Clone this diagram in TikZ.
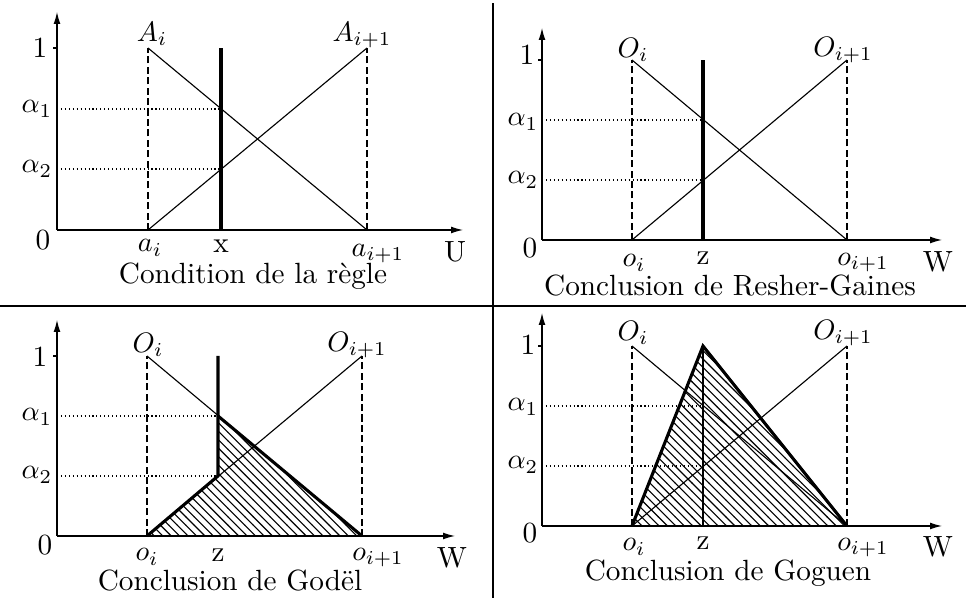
\documentclass[tikz,border=0pt]{standalone}
\usepackage{amsmath}
\usepackage{tikz}
\usetikzlibrary{patterns,arrows.meta}

\tikzset{
  gras/.style={line width=1.1pt},
  tiret/.style={dash pattern=on 2.5pt off 1.2pt},
  pointille/.style={dash pattern=on 0.4pt off 1pt},
  hachure/.style={pattern=north west lines},
  separe/.style={line width=0.7pt}
}

\begin{document}
\begin{tikzpicture}[>={Latex[length=4.2pt,width=2.4pt]}, x=0.0125cm, y=0.0125cm,
  every node/.style={font=\fontsize{10.4pt}{12pt}\selectfont}]
\useasboundingbox (0,0) rectangle (966,601);
% separations
\coordinate (hg) at (0,295);
\coordinate (hd) at (966,295);
\coordinate (vh) at (493,598);
\coordinate (vb) at (493,3);
\draw[separe] (vb) -- (vh);
\draw[separe] (hg) -- (hd);

% condition de la regle
\begin{scope}[shift={(57,371)}]
  \coordinate (c0) at (0,0);
  \coordinate (cU) at (406,0);
  \coordinate (cY) at (0,218);
  \coordinate (ct) at (-4,182);
  \coordinate (c1) at (0,182);
  \coordinate (cai) at (91,0);
  \coordinate (caj) at (310,0);
  \coordinate (cAi) at (91,182);
  \coordinate (cAj) at (310,182);
  \coordinate (cx) at (164,0);
  \coordinate (cxh) at (164,182);
  \coordinate (cl1) at (0,121);
  \coordinate (cl2) at (0,61);
  \coordinate (cx1) at (164,121);
  \coordinate (cx2) at (164,61);
  \draw[->] (c0) -- (cU);
  \draw[->] (c0) -- (cY);
  \draw (ct) -- (c1);
  \draw[tiret] (cai) -- (cAi);
  \draw[tiret] (caj) -- (cAj);
  \draw (cAi) -- (caj);
  \draw (cai) -- (cAj);
  \draw[pointille] (cl1) -- (cx1);
  \draw[pointille] (cl2) -- (cx2);
  \draw[gras] (cx) -- (cxh);
  \node (cun) at (-17,182) {1};
  \node (czero) at (-14,-10) {0};
  \node (calpha1) at (-20,121) {$\alpha_1$};
  \node (calpha2) at (-20,61) {$\alpha_2$};
  \node (cnAi) at (95,196) {$A_i$};
  \node (cnAj) at (305,195) {$A_{i+1}$};
  \node (cnai) at (93,-18) {$a_i$};
  \node (cnx) at (164,-16) {x};
  \node (cnaj) at (321,-24) {$a_{i+1}$};
  \node (cnU) at (398,-22) {U};
  \node (ctitre) at (196,-46) {Condition de la règle};
\end{scope}

% conclusion de Resher-Gaines
\begin{scope}[shift={(542,361)}]
  \coordinate (r0) at (0,0);
  \coordinate (rW) at (400,0);
  \coordinate (rY) at (0,212);
  \coordinate (rt) at (-4,180);
  \coordinate (r1) at (0,180);
  \coordinate (roi) at (90,0);
  \coordinate (roj) at (305,0);
  \coordinate (rOi) at (90,180);
  \coordinate (rOj) at (305,180);
  \coordinate (rz) at (161,0);
  \coordinate (rzh) at (161,180);
  \coordinate (rl1) at (0,120);
  \coordinate (rl2) at (0,60);
  \coordinate (rz1) at (161,120);
  \coordinate (rz2) at (161,60);
  \draw[->] (r0) -- (rW);
  \draw[->] (r0) -- (rY);
  \draw (rt) -- (r1);
  \draw[tiret] (roi) -- (rOi);
  \draw[tiret] (roj) -- (rOj);
  \draw (rOi) -- (roj);
  \draw (roi) -- (rOj);
  \draw[pointille] (rl1) -- (rz1);
  \draw[pointille] (rl2) -- (rz2);
  \draw[gras] (rz) -- (rzh);
  \node (run) at (-15,185) {1};
  \node (rzero) at (-12,-8) {0};
  \node (ralpha1) at (-19,118) {$\alpha_1$};
  \node (ralpha2) at (-19,60) {$\alpha_2$};
  \node (rnOi) at (91,190) {$O_i$};
  \node (rnOj) at (301,190) {$O_{i+1}$};
  \node (rnoi) at (92,-23) {$o_i$};
  \node (rnz) at (161,-18) {z};
  \node (rnoj) at (321,-23) {$o_{i+1}$};
  \node (rnW) at (396,-22) {W};
  \node (rtitre) at (188,-46) {Conclusion de Resher-Gaines};
\end{scope}

% conclusion de Godel
\begin{scope}[shift={(57,65)}]
  \coordinate (g0) at (0,0);
  \coordinate (gW) at (398,0);
  \coordinate (gY) at (0,216);
  \coordinate (gt) at (-4,180);
  \coordinate (g1) at (0,180);
  \coordinate (goi) at (90,0);
  \coordinate (goj) at (305,0);
  \coordinate (gOi) at (90,180);
  \coordinate (gOj) at (305,180);
  \coordinate (gzh) at (161,180);
  \coordinate (gl1) at (0,120);
  \coordinate (gl2) at (0,60);
  \coordinate (gz1) at (161,120);
  \coordinate (gz2) at (161,60);
  \fill[hachure] (goi) -- (gz2) -- (gz1) -- (goj) -- cycle;
  \draw[->] (g0) -- (gW);
  \draw[->] (g0) -- (gY);
  \draw (gt) -- (g1);
  \draw[tiret] (goi) -- (gOi);
  \draw[tiret] (goj) -- (gOj);
  \draw (gOi) -- (goj);
  \draw (goi) -- (gOj);
  \draw[pointille] (gl1) -- (gz1);
  \draw[pointille] (gl2) -- (gz2);
  \draw[gras] (goi) -- (gz2) -- (gzh);
  \draw[gras] (gz1) -- (goj);
  \node (gun) at (-17,179) {1};
  \node (gzero) at (-12,-9) {0};
  \node (galpha1) at (-20,119) {$\alpha_1$};
  \node (galpha2) at (-20,61) {$\alpha_2$};
  \node (gnOi) at (91,191) {$O_i$};
  \node (gnOj) at (300,191) {$O_{i+1}$};
  \node (gnoi) at (90,-21) {$o_i$};
  \node (gnz) at (161,-19) {z};
  \node (gnoj) at (321,-22) {$o_{i+1}$};
  \node (gnW) at (395,-22) {W};
  \node (gtitre) at (173,-45) {Conclusion de Godël};
\end{scope}

% conclusion de Goguen
\begin{scope}[shift={(542,75)}]
  \coordinate (q0) at (0,0);
  \coordinate (qW) at (400,0);
  \coordinate (qY) at (0,213);
  \coordinate (qt) at (-4,180);
  \coordinate (q1) at (0,180);
  \coordinate (qoi) at (90,0);
  \coordinate (qoj) at (305,0);
  \coordinate (qOi) at (90,180);
  \coordinate (qOj) at (305,180);
  \coordinate (qz) at (161,0);
  \coordinate (qzh) at (161,180);
  \coordinate (ql1) at (0,120);
  \coordinate (ql2) at (0,60);
  \coordinate (qz1) at (161,120);
  \coordinate (qz2) at (161,60);
  \fill[hachure] (qoi) -- (qzh) -- (qoj) -- cycle;
  \draw[->] (q0) -- (qW);
  \draw[->] (q0) -- (qY);
  \draw (qt) -- (q1);
  \draw[tiret] (qoi) -- (qOi);
  \draw[tiret] (qoj) -- (qOj);
  \draw (qOi) -- (qoj);
  \draw (qoi) -- (qOj);
  \draw[pointille] (ql1) -- (qz1);
  \draw[pointille] (ql2) -- (qz2);
  \draw (qz) -- (qzh);
  \draw[gras] (qoi) -- (qzh) -- (qoj);
  \node (qun) at (-14,181) {1};
  \node (qzero) at (-12,-7) {0};
  \node (qalpha1) at (-19,119) {$\alpha_1$};
  \node (qalpha2) at (-19,61) {$\alpha_2$};
  \node (qnOi) at (91,193) {$O_i$};
  \node (qnOj) at (301,193) {$O_{i+1}$};
  \node (qnoi) at (92,-21) {$o_i$};
  \node (qnz) at (161,-17) {z};
  \node (qnoj) at (321,-22) {$o_{i+1}$};
  \node (qnW) at (396,-21) {W};
  \node (qtitre) at (186,-47) {Conclusion de Goguen};
\end{scope}
\end{tikzpicture}
\end{document}
